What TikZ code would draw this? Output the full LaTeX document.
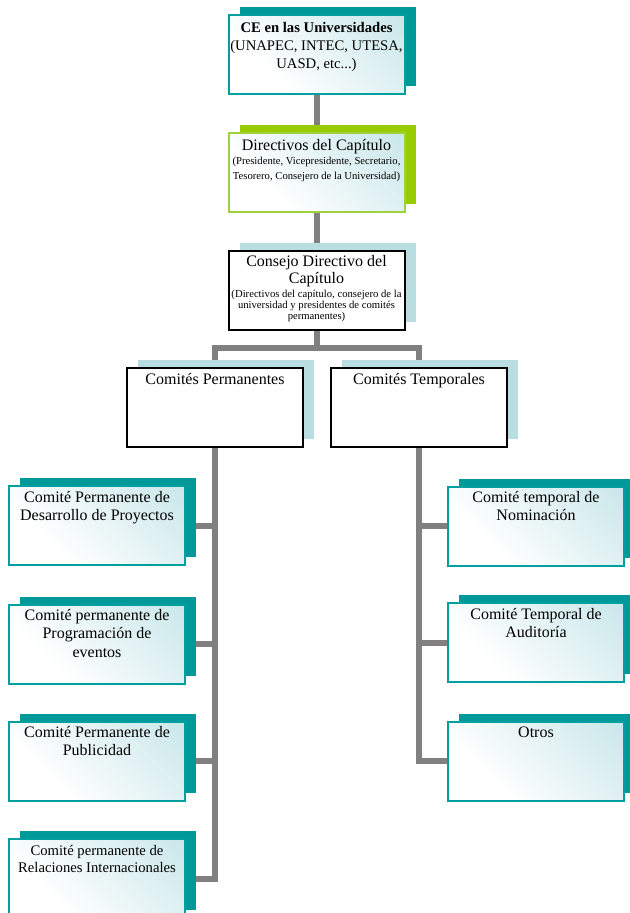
\documentclass[tikz,border=0pt]{standalone}
\usepackage{fontspec}
\setmainfont{Liberation Serif}
\usetikzlibrary{shadows,backgrounds}
\definecolor{tealdark}{RGB}{0,153,153}
\definecolor{tealline}{RGB}{0,160,160}
\definecolor{tealpale}{RGB}{186,224,228}
\definecolor{grassgreen}{RGB}{153,204,0}
\definecolor{greenline}{RGB}{160,208,60}
\definecolor{skyshade}{RGB}{184,222,226}
\definecolor{branchgray}{RGB}{128,128,128}
\pgfdeclareverticalshading{tealwash}{100bp}{color(0bp)=(white); color(32bp)=(white); color(100bp)=(tealpale)}
\begin{document}
\begin{tikzpicture}[
      x=0.75pt, y=-0.75pt,
      box/.style={rectangle, text width=136pt, inner xsep=-2pt, inner ysep=3pt,
                  text height=9pt, text depth=44.25pt, align=flush center,
                  font=\fontsize{12}{13.8}\selectfont, line width=1.5pt},
      washbox/.style={box, shade, shading=tealwash, shading angle=-45},
      tealbox/.style={washbox, draw=tealline,
                      general shadow={shadow xshift=8.25pt, shadow yshift=6pt, fill=tealdark}},
      greenbox/.style={washbox, draw=greenline,
                       general shadow={shadow xshift=8.25pt, shadow yshift=6pt, fill=grassgreen}},
      plainbox/.style={box, draw=black, fill=white,
                       general shadow={shadow xshift=8.25pt, shadow yshift=6pt, fill=skyshade}},
      branch/.style={draw=branchgray, line width=4.5pt, line join=miter}
    ]
      \useasboundingbox (0,0) rectangle (629,913);
      % top of the chart
      \node[tealbox, font=\fontsize{11}{13.5}\selectfont, text height=10.5pt, text depth=42.75pt]
        (ce) at (316.5,54.5)
        {\textbf{CE en las Universidades}\\(UNAPEC, INTEC, UTESA,\\UASD, etc...)};
      \node[greenbox, text height=10.5pt, text depth=42.75pt] (dir) at (316.5,172.5)
        {Directivos del Capítulo\\[-1.5pt]\fontsize{8}{11.3}\selectfont
         (Presidente, Vicepresidente, Secretario,\\Tesorero, Consejero de la Universidad)\par};
      \node[plainbox] (consejo) at (316.5,290)
        {\fontsize{12}{13}\selectfont Consejo Directivo del\\Capítulo\par\vskip 2pt
         \fontsize{8}{8.25}\selectfont (Directivos del capítulo, consejero de la\\
         universidad y presidentes de comités\\permanentes)\par};
      \coordinate (split) at (316.5,348);
      \node[plainbox] (perm) at (215,407.5) {Comités Permanentes};
      \node[plainbox] (temp) at (419,407.5) {Comités Temporales};
      % the committees
      \foreach \nm/\yy/\txt in {pa/525.5/{Comité Permanente de\\Desarrollo de Proyectos},
                                pb/644/{Comité permanente de\\Programación de\\eventos},
                                pc/761/{Comité Permanente de\\Publicidad},
                                pd/878.5/{\fontsize{11}{13.3}\selectfont Comité permanente de\\Relaciones Internacionales\endgraf}} {
        \node[tealbox] (\nm) at (97,\yy) {\txt};
      }
      \foreach \nm/\yy/\txt in {ta/526/{Comité temporal de\\Nominación},
                                tb/642.5/{Comité Temporal de\\Auditoría},
                                tc/761/{Otros}} {
        \node[tealbox] (\nm) at (536,\yy) {\txt};
      }
      \begin{scope}[on background layer]
        \draw[branch] (ce) -- (dir);
        \draw[branch] (dir) -- (consejo);
        \draw[branch] (consejo) -- (split) -| (perm);
        \draw[branch] (split) -| (temp);
        \foreach \nm in {pa,pb,pc,pd}
          \draw[branch] (perm) |- (\nm);
        \foreach \nm in {ta,tb,tc}
          \draw[branch] (temp) |- (\nm);
      \end{scope}
    \end{tikzpicture}
\end{document}
